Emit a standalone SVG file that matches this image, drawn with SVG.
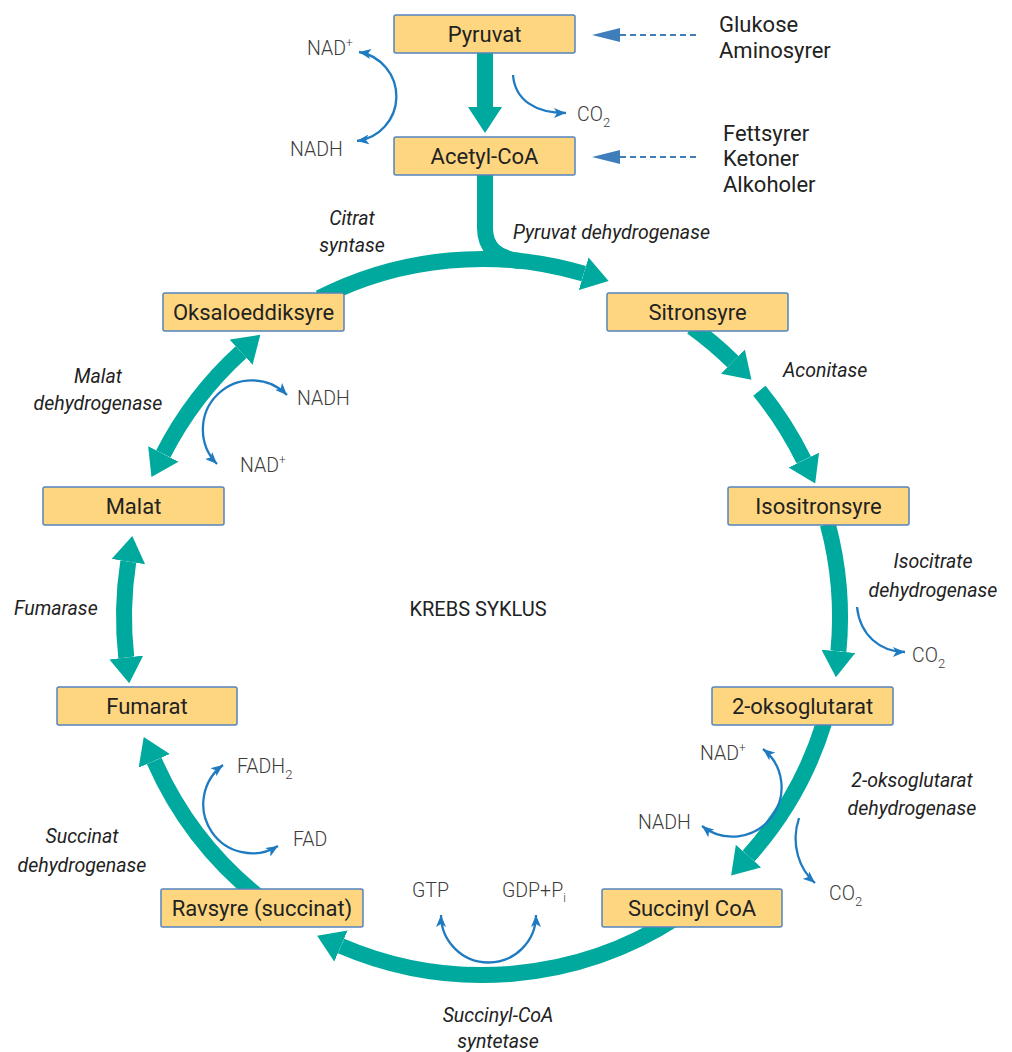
<svg xmlns="http://www.w3.org/2000/svg" width="1012" height="1052" viewBox="0 0 1012 1052">
<style>
.box{fill:#FED680;stroke:#5384BE;stroke-width:1.5}
.bl{font-family:Roboto,"Liberation Sans",sans-serif;font-size:22px;fill:#222;text-anchor:middle}
.cyc{fill:none;stroke:#00A99D;stroke-width:16;stroke-linecap:butt}
.co{fill:none;stroke:#1F7BC1;stroke-width:2.3}
.gl{font-family:Roboto,"Liberation Sans",sans-serif;font-weight:300;font-size:19.5px;fill:#3c3c3c}
.en{font-family:Roboto,"Liberation Sans",sans-serif;font-style:italic;font-size:19.5px;fill:#222}
.src{font-family:Roboto,"Liberation Sans",sans-serif;font-size:22px;fill:#222}
.dash{stroke:#3F7EBB;stroke-width:2.2;stroke-dasharray:6 4;fill:none}
</style>
<defs>
<marker id="tA" markerUnits="userSpaceOnUse" viewBox="0 -17 26 34" refX="0" refY="0" markerWidth="26" markerHeight="34" orient="auto-start-reverse"><path d="M0,-17 L26,0 L0,17 z" fill="#00A99D"/></marker>
<marker id="bA" markerUnits="userSpaceOnUse" viewBox="0 -5 12 10" refX="12" refY="0" markerWidth="12" markerHeight="10" orient="auto-start-reverse"><path d="M0,-5 L12,0 L0,5 L3,0 z" fill="#1F7BC1"/></marker>
</defs>
<rect width="1012" height="1052" fill="#fff"/>
<g id="connectors">
<path class="cyc" d="M485,53 L485,107" marker-end="url(#tA)"/>
<path class="cyc" d="M485,175 L485,228 Q485,257 520,261"/>
<path class="cyc" d="M319.5,298 A358,358 0 0 1 583.7,273.7" marker-end="url(#tA)"/>
<path class="cyc" d="M691.9,327 A358,358 0 0 1 732.9,361.6" marker-end="url(#tA)"/>
<path class="cyc" d="M759.4,390.7 A358,358 0 0 1 803.8,460.1" marker-end="url(#tA)"/>
<path class="cyc" d="M827.8,524.3 A358,358 0 0 1 838.4,651.3" marker-end="url(#tA)"/>
<path class="cyc" d="M824.4,721.7 A358,358 0 0 1 748.5,856.1" marker-end="url(#tA)"/>
<path class="cyc" d="M677,917.3 A358,358 0 0 1 341,946" marker-end="url(#tA)"/>
<path class="cyc" d="M256.7,895.2 A358,358 0 0 1 154.2,760.9" marker-end="url(#tA)"/>
<path class="cyc" d="M126.3,657.5 A358,358 0 0 1 128.3,561.6" marker-start="url(#tA)" marker-end="url(#tA)"/>
<path class="cyc" d="M163.3,453.9 A358,358 0 0 1 241.1,352.2" marker-start="url(#tA)" marker-end="url(#tA)"/>
<path class="co" d="M359,52 A45,45 0 0 1 357,141" marker-start="url(#bA)" marker-end="url(#bA)"/>
<path class="co" d="M513,75 C515,100 535,113 566,113" marker-end="url(#bA)"/>
<path class="co" d="M287,395 A49,49 0 0 0 217,464" marker-start="url(#bA)" marker-end="url(#bA)"/>
<path class="co" d="M857,607 C860,635 880,652 905,652" marker-end="url(#bA)"/>
<path class="co" d="M763,749 A49,49 0 0 1 702,826" marker-start="url(#bA)" marker-end="url(#bA)"/>
<path class="co" d="M799,818 C790,845 800,870 815,883" marker-end="url(#bA)"/>
<path class="co" d="M223,765 A49,49 0 0 0 278,846" marker-start="url(#bA)" marker-end="url(#bA)"/>
<path class="co" d="M441,915 A47.5,47.5 0 0 0 536,915" marker-start="url(#bA)" marker-end="url(#bA)"/>
<line class="dash" x1="620" y1="35" x2="697" y2="35"/>
<polygon points="592,35 620,28 620,42" fill="#3F7EBB"/>
<line class="dash" x1="620" y1="157" x2="697" y2="157"/>
<polygon points="592,157 620,150 620,164" fill="#3F7EBB"/>
</g>
<g id="pyruvat"><rect class="box" x="394" y="15" width="181" height="38" rx="2"/><text class="bl" x="484.5" y="42">Pyruvat</text></g>
<g id="acetylcoa"><rect class="box" x="394" y="137" width="181" height="38" rx="2"/><text class="bl" x="484.5" y="164">Acetyl-CoA</text></g>
<g id="oksaloeddiksyre"><rect class="box" x="163" y="293" width="181" height="38" rx="2"/><text class="bl" x="253.5" y="320">Oksaloeddiksyre</text></g>
<g id="sitronsyre"><rect class="box" x="607" y="293" width="181" height="38" rx="2"/><text class="bl" x="697.5" y="320">Sitronsyre</text></g>
<g id="malat"><rect class="box" x="43" y="487" width="181" height="38" rx="2"/><text class="bl" x="133.5" y="514">Malat</text></g>
<g id="isositronsyre"><rect class="box" x="728" y="487" width="181" height="38" rx="2"/><text class="bl" x="818.5" y="514">Isositronsyre</text></g>
<g id="fumarat"><rect class="box" x="57" y="687" width="180" height="38" rx="2"/><text class="bl" x="147" y="714">Fumarat</text></g>
<g id="oksoglutarat"><rect class="box" x="712" y="687" width="181" height="38" rx="2"/><text class="bl" x="802.5" y="714">2-oksoglutarat</text></g>
<g id="ravsyre"><rect class="box" x="161" y="889" width="202" height="38" rx="2"/><text class="bl" x="262" y="916">Ravsyre (succinat)</text></g>
<g id="succinylcoa"><rect class="box" x="602" y="889" width="180" height="38" rx="2"/><text class="bl" x="692" y="916">Succinyl CoA</text></g>
<g id="labels">
<text class="src" x="719" y="32">Glukose</text>
<text class="src" x="719" y="58">Aminosyrer</text>
<text class="src" x="723" y="141">Fettsyrer</text>
<text class="src" x="723" y="166">Ketoner</text>
<text class="src" x="723" y="192">Alkoholer</text>
<text class="gl" x="307" y="55">NAD<tspan font-size="12" dy="-8">+</tspan></text>
<text class="gl" x="290" y="156">NADH</text>
<text class="gl" x="577" y="121">CO<tspan font-size="13" dy="6">2</tspan></text>
<text class="gl" x="297" y="405">NADH</text>
<text class="gl" x="240" y="472">NAD<tspan font-size="12" dy="-8">+</tspan></text>
<text class="gl" x="912" y="662">CO<tspan font-size="13" dy="6">2</tspan></text>
<text class="gl" x="700" y="760">NAD<tspan font-size="12" dy="-8">+</tspan></text>
<text class="gl" x="638" y="829">NADH</text>
<text class="gl" x="829" y="900">CO<tspan font-size="13" dy="6">2</tspan></text>
<text class="gl" x="237" y="773">FADH<tspan font-size="13" dy="6">2</tspan></text>
<text class="gl" x="293" y="846">FAD</text>
<text class="gl" x="412" y="897">GTP</text>
<text class="gl" x="502" y="897">GDP+P<tspan font-size="12" dy="5">i</tspan></text>
<text class="en" x="352" y="225" text-anchor="middle">Citrat</text>
<text class="en" x="352" y="252" text-anchor="middle">syntase</text>
<text class="en" x="513" y="239">Pyruvat dehydrogenase</text>
<text class="en" x="783" y="377">Aconitase</text>
<text class="en" x="98" y="383" text-anchor="middle">Malat</text>
<text class="en" x="98" y="410" text-anchor="middle">dehydrogenase</text>
<text class="en" x="933" y="568" text-anchor="middle">Isocitrate</text>
<text class="en" x="933" y="597" text-anchor="middle">dehydrogenase</text>
<text class="en" x="14" y="615">Fumarase</text>
<text class="src" x="478" y="616" text-anchor="middle" style="font-size:20px">KREBS SYKLUS</text>
<text class="en" x="912" y="787" text-anchor="middle">2-oksoglutarat</text>
<text class="en" x="912" y="815" text-anchor="middle">dehydrogenase</text>
<text class="en" x="82" y="843" text-anchor="middle">Succinat</text>
<text class="en" x="82" y="872" text-anchor="middle">dehydrogenase</text>
<text class="en" x="498" y="1022" text-anchor="middle">Succinyl-CoA</text>
<text class="en" x="498" y="1048" text-anchor="middle">syntetase</text>
</g>
</svg>
